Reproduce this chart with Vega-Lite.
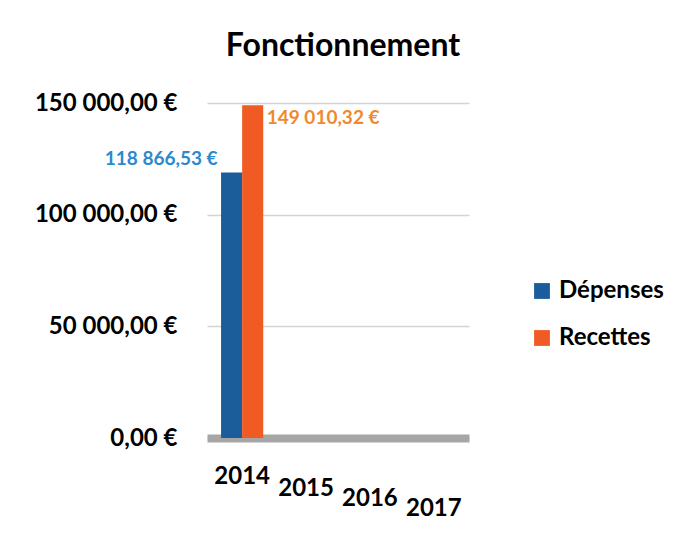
{
  "$schema": "https://vega.github.io/schema/vega-lite/v6.json",
  "width": 262,
  "height": 335,
  "padding": {"left": 34, "top": 30, "right": 10, "bottom": 10},
  "title": {"text": "Fonctionnement", "fontSize": 32, "font": "Lato", "fontWeight": "bold", "color": "#000000", "offset": 28, "dx": 5},
  "config": {
    "locale": {"number": {"decimal": ",", "thousands": " ", "grouping": [3], "currency": ["", " €"]}},
    "view": {"stroke": null},
    "font": "Lato"
  },
  "data": {"values": [
    {"annee": "2014", "serie": "Dépenses", "montant": 118866.53},
    {"annee": "2014", "serie": "Recettes", "montant": 149010.32}
  ]},
  "encoding": {
    "x": {"field": "annee", "type": "nominal", "title": null,
      "scale": {"domain": ["2014", "2015", "2016", "2017"], "paddingInner": 0.34, "paddingOuter": 0.22},
      "axis": {"labelAngle": 0, "labelFontSize": 24, "labelFontWeight": "bold", "labelColor": "#000000", "ticks": false, "domainColor": "#a6a6a6", "domainWidth": 8,
        "labelPadding": {"condition": [
          {"test": "datum.value === '2015'", "value": 38},
          {"test": "datum.value === '2016'", "value": 48},
          {"test": "datum.value === '2017'", "value": 58}
        ], "value": 26}}},
    "xOffset": {"field": "serie", "type": "nominal", "scale": {"domain": ["Dépenses", "Recettes"]}},
    "y": {"field": "montant", "type": "quantitative", "title": null,
      "scale": {"domain": [0, 150000], "nice": false},
      "axis": {"values": [0, 50000, 100000, 150000], "format": "$,.2f", "labelFontSize": 24, "labelFontWeight": "bold", "labelColor": "#000000", "labelPadding": 30, "ticks": false, "domain": false, "gridColor": "#d4d4d4", "gridWidth": 1.5}}
  },
  "layer": [
    {"mark": {"type": "bar"},
     "encoding": {"color": {"field": "serie", "type": "nominal", "title": null,
        "scale": {"domain": ["Dépenses", "Recettes"], "range": ["#1b5c9b", "#f05a23"]},
        "legend": {"orient": "none", "legendX": 323, "legendY": 176, "labelFontSize": 24, "labelFontWeight": "bold", "labelColor": "#000000", "symbolType": "square", "symbolSize": 250, "symbolStrokeWidth": 0, "rowPadding": 23, "labelOffset": 5}}}},
    {"transform": [{"filter": "datum.serie === 'Dépenses'"}],
     "mark": {"type": "text", "align": "right", "baseline": "bottom", "dx": -14, "dy": -4, "fontSize": 19, "fontWeight": "bold", "color": "#2a8ad0"},
     "encoding": {"text": {"field": "montant", "type": "quantitative", "format": "$,.2f"}}},
    {"transform": [{"filter": "datum.serie === 'Recettes'"}],
     "mark": {"type": "text", "align": "left", "baseline": "middle", "dx": 14, "dy": 13, "fontSize": 19, "fontWeight": "bold", "color": "#f0892a"},
     "encoding": {"text": {"field": "montant", "type": "quantitative", "format": "$,.2f"}}}
  ]
}
